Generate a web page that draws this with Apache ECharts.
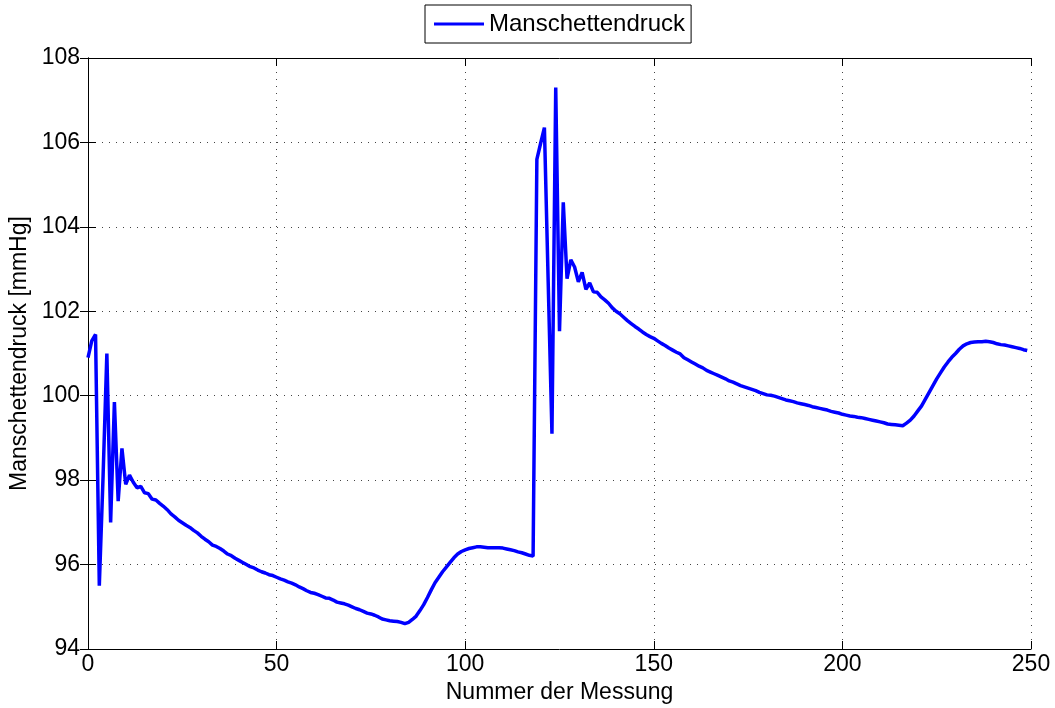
<!DOCTYPE html>
<html>
<head>
<meta charset="utf-8">
<script src="https://cdn.jsdelivr.net/npm/echarts@6/dist/echarts.min.js"></script>
<style>
  html, body { margin: 0; padding: 0; background: #fff; }
  #chart { width: 1055px; height: 708px; }
</style>
</head>
<body>
<div id="chart"></div>
<script>
// Cuff pressure per measurement index (mmHg)
const seriesName = 'Manschettendruck';
const xAxisTitle = 'Nummer der Messung';
const yAxisTitle = 'Manschettendruck [mmHg]';

const pressure = [
  100.90, 101.30, 101.45, 95.50, 98.10, 101.00, 97.00, 99.85, 97.50, 98.75,
  97.90, 98.12, 97.95, 97.82, 97.85, 97.70, 97.68, 97.55, 97.53, 97.45,
  97.38, 97.30, 97.20, 97.13, 97.05, 96.99, 96.93, 96.88, 96.81, 96.75,
  96.67, 96.60, 96.54, 96.46, 96.43, 96.38, 96.32, 96.25, 96.21, 96.15,
  96.10, 96.05, 96.00, 95.95, 95.92, 95.87, 95.83, 95.80, 95.76, 95.74,
  95.70, 95.66, 95.63, 95.59, 95.56, 95.52, 95.47, 95.43, 95.38, 95.34,
  95.32, 95.29, 95.25, 95.21, 95.20, 95.16, 95.11, 95.09, 95.07, 95.04,
  95.00, 94.96, 94.93, 94.89, 94.85, 94.83, 94.80, 94.76, 94.71, 94.69,
  94.67, 94.66, 94.65, 94.63, 94.60, 94.63, 94.70, 94.78, 94.91, 95.05,
  95.22, 95.40, 95.57, 95.70, 95.83, 95.94, 96.05, 96.16, 96.25, 96.31,
  96.35, 96.38, 96.40, 96.42, 96.42, 96.41, 96.40, 96.40, 96.40, 96.40,
  96.39, 96.37, 96.35, 96.33, 96.30, 96.28, 96.25, 96.22, 96.20, 105.60,
  105.98, 106.35, 102.70, 99.10, 107.30, 101.53, 104.58, 102.77, 103.22, 103.05,
  102.70, 102.92, 102.52, 102.67, 102.46, 102.45, 102.34, 102.27, 102.19, 102.08,
  102.00, 101.94, 101.86, 101.78, 101.71, 101.64, 101.58, 101.51, 101.45, 101.40,
  101.36, 101.30, 101.24, 101.19, 101.13, 101.08, 101.03, 100.99, 100.90, 100.85,
  100.80, 100.75, 100.70, 100.66, 100.60, 100.56, 100.52, 100.48, 100.44, 100.40,
  100.35, 100.32, 100.28, 100.24, 100.21, 100.18, 100.15, 100.12, 100.08, 100.05,
  100.02, 100.01, 99.99, 99.96, 99.93, 99.90, 99.88, 99.86, 99.83, 99.81,
  99.79, 99.77, 99.74, 99.72, 99.70, 99.68, 99.66, 99.63, 99.61, 99.59,
  99.56, 99.54, 99.52, 99.51, 99.49, 99.48, 99.46, 99.44, 99.42, 99.40,
  99.38, 99.36, 99.33, 99.32, 99.31, 99.30, 99.29, 99.35, 99.42, 99.52,
  99.64, 99.76, 99.92, 100.08, 100.24, 100.40, 100.54, 100.68, 100.80, 100.91,
  101.00, 101.10, 101.18, 101.23, 101.26, 101.27, 101.28, 101.28, 101.29, 101.28,
  101.26, 101.23, 101.21, 101.20, 101.18, 101.16, 101.14, 101.12, 101.09, 101.07
];
const measurementIndex = pressure.map((_, i) => i);

const FONT = 'Liberation Sans, Arial, Helvetica, sans-serif';
const gridDots = { show: true, lineStyle: { color: '#444', width: 1, type: [1, 6] } };
const frameLine = { show: true, lineStyle: { color: '#000', width: 1 } };
const innerTick = { show: true, inside: true, length: 8, lineStyle: { color: '#000' } };

const chart = echarts.init(document.getElementById('chart'));
chart.setOption({
  animation: false,
  backgroundColor: '#fff',
  grid: {
    left: 88, right: 24, top: 58, bottom: 59,
    containLabel: false,
    outerBoundsMode: 'none'
  },
  legend: {
    data: [seriesName],
    top: 5,
    left: 425,
    padding: [6, 6, 6, 9],
    borderColor: '#000',
    borderWidth: 1,
    borderRadius: 0,
    icon: 'rect',
    itemWidth: 50,
    itemHeight: 3,
    itemGap: 8,
    textStyle: { fontFamily: FONT, fontSize: 24, color: '#000', lineHeight: 26 }
  },
  xAxis: [
    {
      type: 'value', min: 0, max: 250, interval: 50,
      name: xAxisTitle, nameLocation: 'middle', nameGap: 32,
      nameTextStyle: { fontFamily: FONT, fontSize: 23, color: '#000' },
      axisLine: frameLine,
      axisTick: innerTick,
      axisLabel: { fontFamily: FONT, fontSize: 23, color: '#000', margin: 4 },
      splitLine: gridDots
    },
    {
      type: 'value', min: 0, max: 250, interval: 50, position: 'top',
      axisLine: frameLine,
      axisTick: innerTick,
      axisLabel: { show: false },
      splitLine: { show: false }
    }
  ],
  yAxis: [
    {
      type: 'value', min: 94, max: 108, interval: 2,
      name: yAxisTitle, nameLocation: 'middle', nameGap: 55, nameRotate: 90,
      nameTextStyle: { fontFamily: FONT, fontSize: 23, color: '#000' },
      axisLine: frameLine,
      axisTick: innerTick,
      axisLabel: { fontFamily: FONT, fontSize: 23, color: '#000', margin: 8 },
      splitLine: gridDots
    },
    {
      type: 'value', min: 94, max: 108, interval: 2, position: 'right',
      axisLine: frameLine,
      axisTick: innerTick,
      axisLabel: { show: false },
      splitLine: { show: false }
    }
  ],
  series: [
    {
      name: seriesName,
      type: 'line',
      xAxisIndex: 0,
      yAxisIndex: 0,
      data: measurementIndex.map((x, i) => [x, pressure[i]]),
      showSymbol: false,
      symbol: 'none',
      lineStyle: { color: '#0000ff', width: 3.5 },
      itemStyle: { color: '#0000ff' }
    }
  ]
});
</script>
</body>
</html>
